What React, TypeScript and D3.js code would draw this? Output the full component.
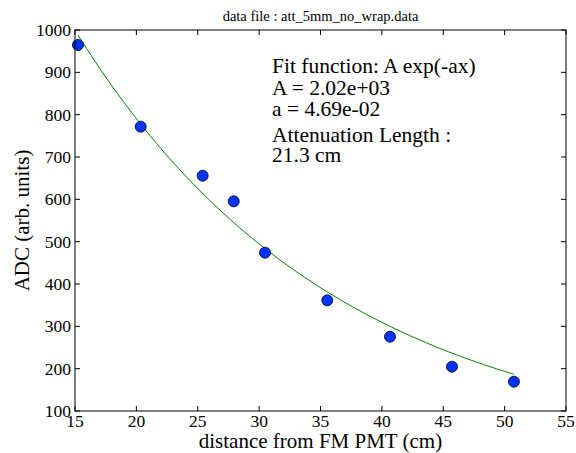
import React from 'react';
import * as d3 from 'd3';

const distances = [15.24, 20.35, 25.4, 27.93, 30.48, 35.55, 40.66, 45.71, 50.76];
const adc = [964.6, 771.6, 655.8, 595.3, 474, 361.5, 275.5, 204.6, 169.2];
const xTicks = [15, 20, 25, 30, 35, 40, 45, 50, 55];
const yTicks = [100, 200, 300, 400, 500, 600, 700, 800, 900, 1000];
const fitA = 2020;
const fitAlpha = 0.0469;
const fitLines = ['Fit function: A exp(-ax)', 'A = 2.02e+03', 'a = 4.69e-02'];
const lengthLines = ['Attenuation Length :', '21.3 cm'];

const W = 576;
const H = 453;
const font = '"Liberation Serif", "DejaVu Serif", serif';

const App = () => {
  const margin = { left: 75, right: 10, top: 30, bottom: 42 };
  const x = d3.scaleLinear().domain([15, 55]).range([margin.left, W - margin.right]);
  const y = d3.scaleLinear().domain([100, 1000]).range([H - margin.bottom, margin.top]);

  // fit curve drawn over the data range only
  const xs = d3.range(0, 101).map(i => distances[0] + (i / 100) * (distances[distances.length - 1] - distances[0]));
  const line = d3.line<number>()
    .x(d => x(d))
    .y(d => y(fitA * Math.exp(-fitAlpha * d)));

  const [x0, x1] = x.range();
  const [y0, y1] = y.range();
  const tick = 5;

  return (
    <svg width={W} height={H} style={{ position: 'absolute', left: 0, top: 0, background: '#fff' }}>
      <rect x={0} y={0} width={W} height={H} fill="#fff" />
      <text x={(x0 + x1) / 2} y={21} textAnchor="middle" fontFamily={font} fontSize={14.5}>
        data file : att_5mm_no_wrap.data
      </text>

      <path d={line(xs) ?? ''} fill="none" stroke="#008000" strokeWidth={1} />

      {distances.map((d, i) => (
        <circle key={i} cx={x(d)} cy={y(adc[i])} r={5.5} fill="#0033ff" stroke="#000" strokeWidth={0.8} />
      ))}

      {xTicks.map(t => (
        <g key={'x' + t}>
          <line x1={x(t)} x2={x(t)} y1={y0} y2={y0 - tick} stroke="#000" />
          <line x1={x(t)} x2={x(t)} y1={y1} y2={y1 + tick} stroke="#000" />
          <text x={x(t)} y={y0 + 16} textAnchor="middle" fontFamily={font} fontSize={17.5}>{t}</text>
        </g>
      ))}
      {yTicks.map(t => (
        <g key={'y' + t}>
          <line x1={x0} x2={x0 + tick} y1={y(t)} y2={y(t)} stroke="#000" />
          <line x1={x1} x2={x1 - tick} y1={y(t)} y2={y(t)} stroke="#000" />
          <text x={x0 - 4} y={y(t) + 6} textAnchor="end" fontFamily={font} fontSize={17.5}>{t}</text>
        </g>
      ))}
      <rect x={x0} y={y1} width={x1 - x0} height={y0 - y1} fill="none" stroke="#000" strokeWidth={1} />

      <text x={(x0 + x1) / 2} y={H - 5} textAnchor="middle" fontFamily={font} fontSize={21}>
        distance from FM PMT (cm)
      </text>
      <text
        transform={`translate(29, ${(y0 + y1) / 2}) rotate(-90)`}
        textAnchor="middle"
        fontFamily={font}
        fontSize={21}
      >
        ADC (arb. units)
      </text>

      {fitLines.map((s, i) => (
        <text key={s} x={272} y={73 + i * 21.5} fontFamily={font} fontSize={21.5}>{s}</text>
      ))}
      {lengthLines.map((s, i) => (
        <text key={s} x={272} y={142 + i * 20} fontFamily={font} fontSize={21.5}>{s}</text>
      ))}
    </svg>
  );
};

export default App;
